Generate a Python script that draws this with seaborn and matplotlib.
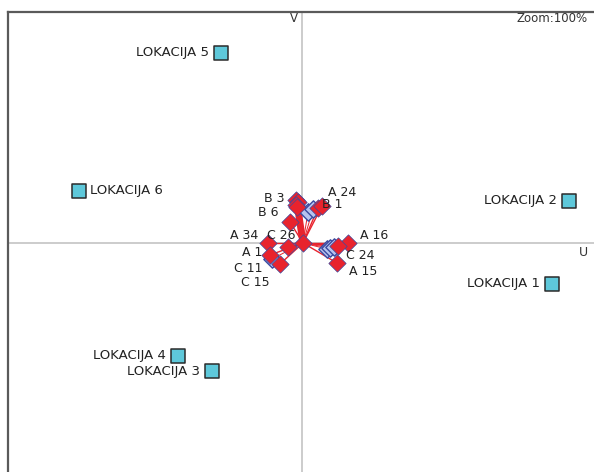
import numpy as np
import pandas as pd
import seaborn as sns
from matplotlib import pyplot as plt

# site scores (U, V)
sites = ['LOKACIJA 1', 'LOKACIJA 2', 'LOKACIJA 3', 'LOKACIJA 4', 'LOKACIJA 5', 'LOKACIJA 6']
site_u = [2.50, 2.67, -0.90, -1.24, -0.81, -2.23]
site_v = [-0.41, 0.42, -1.28, -1.13, 1.90, 0.52]

# sample scores (U, V); kind: 'fill' = red, 'open' = blue outlined
samples = ['O', 'B 2', 'B 4', 'B 5', 'B 3', 'B 6', 'A 25', 'A 26', 'A 24', 'B 1',
           'A 34', 'C 26', 'A 16', 'C 21', 'C 22', 'C 23', 'C 24', 'A 15',
           'A 1', 'C 11', 'C 15']
samp_u = [0.01, -0.06, -0.04, -0.06, -0.05, -0.12, 0.06, 0.11, 0.16, 0.20,
          -0.34, -0.14, 0.46, 0.25, 0.28, 0.32, 0.36, 0.35,
          -0.32, -0.30, -0.22]
samp_v = [0.00, 0.43, 0.41, 0.38, 0.36, 0.21, 0.31, 0.34, 0.35, 0.37,
          0.00, -0.04, 0.00, -0.06, -0.05, -0.04, -0.03, -0.20,
          -0.12, -0.16, -0.21]
samp_kind = ['fill', 'fill', 'fill', 'fill', 'fill', 'fill', 'open', 'open', 'fill', 'fill',
             'fill', 'fill', 'fill', 'open', 'open', 'open', 'fill', 'fill',
             'fill', 'open', 'fill']

# which samples get a visible label: name -> (dx px, dy px, ha)
label_pos = {
    'B 3': (-13, 8, 'right'), 'B 6': (-12, 9, 'right'),
    'A 24': (10, 15, 'left'), 'B 1': (0, 1, 'left'),
    'A 34': (-10, 7, 'right'), 'C 26': (-7, 11, 'center'),
    'A 16': (12, 7, 'left'), 'C 24': (8, -10, 'left'),
    'A 15': (12, -9, 'left'), 'A 1': (-8, 2, 'right'),
    'C 11': (-10, -10, 'right'), 'C 15': (-10, -19, 'right'),
}

site_df = pd.DataFrame({'U': site_u, 'V': site_v, 'name': sites})
samp_df = pd.DataFrame({'U': samp_u, 'V': samp_v, 'name': samples, 'kind': samp_kind})

sns.set_style("white")
plt.rcParams['font.family'] = ['DejaVu Sans']

fig = plt.figure(figsize=(5.94, 4.72), dpi=100)
ax = fig.add_axes([8 / 594, -8 / 472, 592 / 594, 468 / 472])
ax.set_xlim(-2.94, 2.98)
ax.set_ylim(-2.37, 2.31)

ax.axhline(0, color='#c4c4c4', lw=1.2, zorder=0)
ax.axvline(0, color='#c4c4c4', lw=1.2, zorder=0)

red = '#e8232d'
edge = '#3a4aa0'

# lines from the origin to every sample
u0, v0 = samp_u[0], samp_v[0]
for u, v, k in zip(samp_u[1:], samp_v[1:], samp_kind[1:]):
    ax.plot([u0, u], [v0, v], color=red, lw=1.0 if k == 'fill' else 0.7, zorder=1)
# thick bundle up to B 3
ax.plot([u0, -0.05], [v0, 0.40], color=red, lw=5, zorder=1, solid_capstyle='round')

sns.scatterplot(data=samp_df[samp_df.kind == 'open'], x='U', y='V', ax=ax, marker='D',
                s=78, color='#b7c3ee', edgecolor=edge, linewidth=1.0, zorder=3, legend=False)
sns.scatterplot(data=samp_df[samp_df.kind == 'fill'], x='U', y='V', ax=ax, marker='D',
                s=78, color=red, edgecolor=edge, linewidth=0.5, zorder=4, legend=False)

sns.scatterplot(data=site_df, x='U', y='V', ax=ax, marker='s', s=105,
                color='#5ec8da', edgecolor='#2b2b2b', linewidth=1.1, zorder=4, legend=False)

for name, u, v in zip(sites, site_u, site_v):
    if name == 'LOKACIJA 6':
        ax.annotate(name, (u, v), xytext=(11, 0), textcoords='offset pixels',
                    ha='left', va='center', fontsize=9.5, color='#222222')
    else:
        ax.annotate(name, (u, v), xytext=(-12, 0), textcoords='offset pixels',
                    ha='right', va='center', fontsize=9.5, color='#222222')

for name, u, v in zip(samples, samp_u, samp_v):
    if name in label_pos:
        dx, dy, ha = label_pos[name]
        ax.annotate(name, (u, v), xytext=(dx, dy), textcoords='offset pixels',
                    ha=ha, va='center', fontsize=9, color='#222222', zorder=5)

ax.text(-0.04, 2.24, 'V', ha='right', va='center', fontsize=8.5, color='#333333')
ax.text(2.86, -0.10, 'U', ha='right', va='center', fontsize=9, color='#333333')
fig.text(588 / 594, 1 - 19 / 472, 'Zoom:100%', ha='right', va='center', fontsize=8.5,
         color='#333333')

ax.set_xlabel('')
ax.set_ylabel('')
ax.set_xticks([])
ax.set_yticks([])
for side in ['top', 'left']:
    ax.spines[side].set_color('#5a5a5a')
    ax.spines[side].set_linewidth(1.6)
for side in ['right', 'bottom']:
    ax.spines[side].set_visible(False)

fig.savefig('out.png', dpi=100)
